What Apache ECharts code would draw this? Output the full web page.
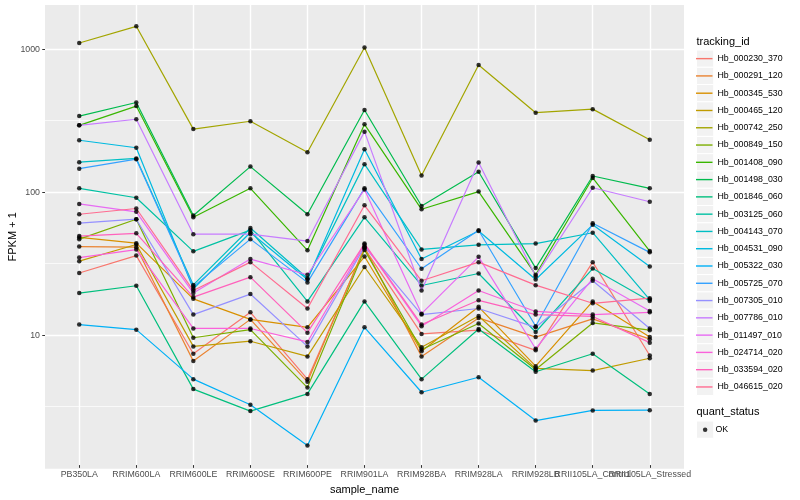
<!DOCTYPE html>
<html>
<head>
<meta charset="utf-8">
<script src="https://cdn.jsdelivr.net/npm/echarts@6/dist/echarts.min.js"></script>
<style>
html, body { margin: 0; padding: 0; background: #ffffff; }
#chart { width: 800px; height: 500px; }
</style>
</head>
<body>
<div id="chart"></div>
<script>
// ---------------- data ----------------
const samples = ['PB350LA', 'RRIM600LA', 'RRIM600LE', 'RRIM600SE', 'RRIM600PE', 'RRIM901LA',
  'RRIM928BA', 'RRIM928LA', 'RRIM928LB', 'RRII105LA_Control', 'RRII105LA_Stressed'];

const trackingIds = ['Hb_000230_370', 'Hb_000291_120', 'Hb_000345_530', 'Hb_000465_120', 'Hb_000742_250',
  'Hb_000849_150', 'Hb_001408_090', 'Hb_001498_030', 'Hb_001846_060', 'Hb_003125_060', 'Hb_004143_070',
  'Hb_004531_090', 'Hb_005322_030', 'Hb_005725_070', 'Hb_007305_010', 'Hb_007786_010', 'Hb_011497_010',
  'Hb_024714_020', 'Hb_033594_020', 'Hb_046615_020'];

// FPKM + 1 per sample (order of samples)
const Hb_000230_370 = [26.3, 34.9, 7.1, 13.9, 4.7, 39.3, 9.8, 10.4, 7.5, 31.4, 6.9];
const Hb_000291_120 = [40.4, 40.0, 6.3, 12.4, 4.5, 40.0, 6.8, 12.7, 9.3, 12.5, 9.0];
const Hb_000345_530 = [46.9, 42.7, 17.3, 12.4, 10.9, 34.4, 7.4, 15.2, 5.8, 16.6, 9.3];
const Hb_000465_120 = [31.9, 41.8, 8.0, 8.7, 6.8, 29.0, 7.9, 13.1, 5.6, 5.4, 6.6];
const Hb_000742_250 = [1100, 1442, 272, 309, 187, 1021, 128, 769, 355, 376, 229];
const Hb_000849_150 = [45.6, 63.0, 9.2, 10.5, 4.1, 38.3, 7.6, 11.6, 5.5, 11.7, 10.4];
const Hb_001408_090 = [289, 395, 65, 104, 38, 294, 74, 98.7, 25.6, 123, 37.6];
const Hb_001498_030 = [336, 419, 67, 148, 68.3, 371, 78, 136, 28.5, 127, 104];
const Hb_001846_060 = [19.0, 21.4, 4.0, 2.8, 3.7, 16.6, 4.7, 10.6, 5.3, 7.1, 3.7];
const Hb_003125_060 = [104, 89.3, 37.4, 52.8, 16.6, 65, 21.5, 26.1, 10.1, 28.3, 16.7];
const Hb_004143_070 = [159, 169, 21.7, 54.6, 24.2, 154, 38.6, 41.6, 42.4, 50.6, 17.1];
const Hb_004531_090 = [227, 201, 20.4, 50.8, 23.7, 196, 33.0, 52.0, 23.7, 57.5, 29.3];
const Hb_005322_030 = [11.4, 10.5, 4.7, 3.1, 1.6, 10.9, 3.8, 4.85, 2.4, 2.83, 2.84];
const Hb_005725_070 = [143, 167, 21.1, 45.6, 22.6, 104, 28.2, 52.7, 11.1, 59, 36.8];
const Hb_007305_010 = [59.2, 63, 13.4, 18.7, 8.0, 40.4, 13.4, 14.8, 10.9, 23.2, 10.7];
const Hb_007786_010 = [289, 319, 49.4, 49.4, 44.2, 261, 19.8, 158, 25.0, 105, 83.7];
const Hb_011497_010 = [80.7, 71, 19.0, 33.0, 25.6, 102, 13.6, 34.2, 7.7, 24, 14.2];
const Hb_024714_020 = [33.8, 38.5, 10.7, 10.7, 8.6, 41.8, 11.1, 19.8, 14.1, 13.4, 13.9];
const Hb_033594_020 = [47.9, 50.1, 17.8, 24.6, 10.0, 42.4, 11.4, 16.9, 13.4, 13.0, 8.5];
const Hb_046615_020 = [68.3, 75, 19.8, 31.4, 14.8, 79, 23.2, 31.4, 21.6, 16.1, 17.5];

const seriesValues = [Hb_000230_370, Hb_000291_120, Hb_000345_530, Hb_000465_120, Hb_000742_250,
  Hb_000849_150, Hb_001408_090, Hb_001498_030, Hb_001846_060, Hb_003125_060, Hb_004143_070,
  Hb_004531_090, Hb_005322_030, Hb_005725_070, Hb_007305_010, Hb_007786_010, Hb_011497_010,
  Hb_024714_020, Hb_033594_020, Hb_046615_020];

const quantStatus = ['OK'];
const yTickValues = [10, 100, 1000];
const yTickLabels = ['10', '100', '1000'];

// ---------------- styling / layout ----------------
const palette = ['#F8766D', '#EA8331', '#D89000', '#C09B00', '#A3A500', '#7CAE00', '#39B600', '#00BB4E',
  '#00BF7D', '#00C1A3', '#00BFC4', '#00BAE0', '#00B0F6', '#35A2FF', '#9590FF', '#C77CFF', '#E76BF3',
  '#FA62DB', '#FF62BC', '#FF6C91'];
const FONT = '"Liberation Sans", Arial, Helvetica, sans-serif';
const PANEL = { left: 45, top: 5, width: 639, height: 463.7 };
const Y1000 = 49.2;     // pixel row of the 1000 gridline
const DECADE = 143;     // pixels per decade
const step = PANEL.width / 11.2;
const panelBottom = PANEL.top + PANEL.height;
const yMinData = Math.pow(10, 3 - (panelBottom - Y1000) / DECADE);
const yMaxData = Math.pow(10, 3 + (Y1000 - PANEL.top) / DECADE);
const tickExps = yTickValues.map(v => Math.round(Math.log10(v)));
// exponent at the very top pixel row of the canvas
const topExp = 3 + Y1000 / DECADE;
const yExp0 = Y1000 + 3 * DECADE;          // pixel row of 10^0
const yExpHalf = Y1000 + 2.5 * DECADE;     // pixel row of 10^0.5

const KEY = 17.28;
const legendLeft = 696.5;
const legendTop = 50;
const okTop = 421;

const chart = echarts.init(document.getElementById('chart'), null, { renderer: 'canvas' });

const lineSeries = trackingIds.map((id, k) => ({
  type: 'line',
  name: id,
  xAxisIndex: 1,
  yAxisIndex: 1,
  data: seriesValues[k],
  symbol: 'none',
  color: palette[k],
  lineStyle: { color: palette[k], width: 1.2 },
  itemStyle: { color: palette[k] },
  z: 2,
  silent: true,
  animation: false
}));

const pointData = [];
seriesValues.forEach(vals => vals.forEach((v, i) => pointData.push([i, v])));

const scatterSeries = {
  type: 'scatter',
  name: quantStatus[0],
  xAxisIndex: 1,
  yAxisIndex: 1,
  data: pointData,
  symbol: 'circle',
  symbolSize: 4.5,
  itemStyle: { color: '#000000' },
  z: 3,
  silent: true,
  animation: false
};

const graphics = [
  { type: 'rect', z: -10, silent: true,
    shape: { x: PANEL.left, y: PANEL.top, width: PANEL.width, height: PANEL.height },
    style: { fill: '#EBEBEB' } },
  { type: 'text', x: 13, y: PANEL.top + PANEL.height / 2, rotation: Math.PI / 2, silent: true,
    style: { text: 'FPKM + 1', font: '11px ' + FONT, fill: '#000000', align: 'center', verticalAlign: 'middle' } },
  { type: 'text', x: legendLeft, y: 41.5, silent: true,
    style: { text: 'tracking_id', font: '11px ' + FONT, fill: '#000000', align: 'left', verticalAlign: 'middle' } },
  { type: 'text', x: legendLeft, y: 412, silent: true,
    style: { text: 'quant_status', font: '11px ' + FONT, fill: '#000000', align: 'left', verticalAlign: 'middle' } }
];
trackingIds.forEach((id, k) => {
  graphics.push({ type: 'rect', z: 0, silent: true,
    shape: { x: legendLeft, y: legendTop + k * KEY, width: KEY, height: KEY },
    style: { fill: '#F2F2F2', stroke: '#FFFFFF', lineWidth: 1 } });
});
graphics.push({ type: 'rect', z: 0, silent: true,
  shape: { x: legendLeft, y: okTop, width: KEY, height: KEY },
  style: { fill: '#F2F2F2', stroke: '#FFFFFF', lineWidth: 1 } });

const labelFormatter = function (v) {
  const i = tickExps.findIndex(t => Math.abs(t - v) < 1e-6);
  return i >= 0 ? yTickLabels[i] : '';
};

const option = {
  animation: false,
  backgroundColor: '#ffffff',
  textStyle: { fontFamily: FONT },
  graphic: graphics,
  grid: [
    // exponent grid: 10^0 at its bottom, canvas top at its top (major gridlines + labels)
    { left: PANEL.left, width: PANEL.width, top: 0, height: yExp0, containLabel: false },
    // data grid covering the plotting panel
    { left: PANEL.left + 0.1 * step, width: 11 * step, top: PANEL.top, height: PANEL.height, containLabel: false },
    // exponent grid for the half-decade (minor) gridlines: 10^0.5 at its bottom
    { left: PANEL.left, width: PANEL.width, top: 0, height: yExpHalf, containLabel: false }
  ],
  xAxis: [
    { type: 'value', gridIndex: 0, show: false, min: 0, max: 1 },
    { type: 'category', gridIndex: 1, data: samples, boundaryGap: true, z: 1,
      axisLine: { show: false },
      axisTick: { show: true, alignWithLabel: true, length: 2.75, lineStyle: { color: '#333333', width: 1 } },
      axisLabel: { interval: 0, hideOverlap: false, color: '#4D4D4D', fontSize: 8.8, margin: 5, fontFamily: FONT },
      splitLine: { show: true, alignWithLabel: true, lineStyle: { color: '#FFFFFF', width: 1.4 } },
      name: 'sample_name', nameLocation: 'middle', nameGap: 14,
      nameTextStyle: { color: '#000000', fontSize: 11, fontFamily: FONT }
    },
    { type: 'value', gridIndex: 2, show: false, min: 0, max: 1 }
  ],
  yAxis: [
    { type: 'value', gridIndex: 0, min: 0, max: topExp, interval: 1, z: 0,
      axisLine: { show: false },
      axisTick: { show: true, length: 2.75, customValues: tickExps, lineStyle: { color: '#333333', width: 1 } },
      axisLabel: { customValues: tickExps, color: '#4D4D4D', fontSize: 8.8, margin: 5, fontFamily: FONT,
        formatter: labelFormatter },
      splitLine: { show: true, lineStyle: { color: '#FFFFFF', width: 1.4 } }
    },
    { type: 'log', logBase: 10, gridIndex: 1, min: yMinData, max: yMaxData, show: false },
    { type: 'value', gridIndex: 2, min: 0.5, max: topExp, interval: 1, z: 0,
      axisLine: { show: false }, axisTick: { show: false }, axisLabel: { show: false },
      splitLine: { show: true, lineStyle: { color: '#FFFFFF', width: 0.7 } }
    }
  ],
  legend: [
    { data: trackingIds, orient: 'vertical', left: legendLeft - 0.5, top: legendTop,
      padding: 0, itemWidth: 16.5, itemHeight: 1.4, itemGap: 0, icon: 'rect',
      selectedMode: false,
      textStyle: { fontSize: 8.8, lineHeight: KEY, color: '#000000', fontFamily: FONT } },
    { data: quantStatus, orient: 'vertical', left: legendLeft + KEY / 2 - 2.25, top: okTop,
      padding: 0, itemWidth: 4.5, itemHeight: 4.5, itemGap: 0, selectedMode: false, icon: 'circle',
      textStyle: { fontSize: 8.8, lineHeight: KEY, color: '#000000', fontFamily: FONT, padding: [0, 0, 0, 3] } }
  ],
  series: lineSeries.concat([scatterSeries])
};
chart.setOption(option);
</script>
</body>
</html>
